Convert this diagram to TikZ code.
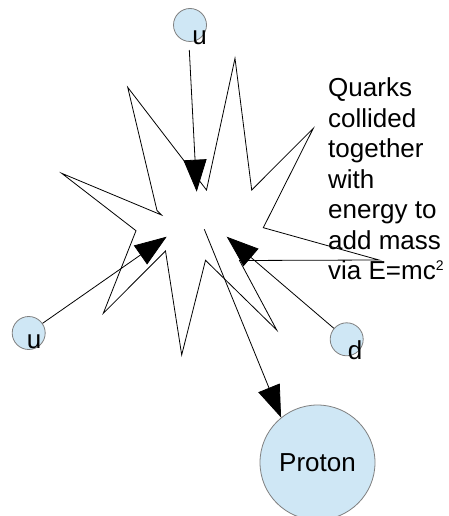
\documentclass[tikz,border=0pt]{standalone}
\usepackage{fontspec}
\setmainfont{Liberation Sans}
\usetikzlibrary{arrows.meta}
\definecolor{quarkblue}{HTML}{CFE7F5}
\definecolor{rimgray}{HTML}{808080}

\begin{document}
\begin{tikzpicture}[x=1pt, y=-1pt, font=\fontsize{26}{30.5}\selectfont]
    \tikzset{ quark/.style={circle,draw=rimgray,fill=quarkblue,line width=0.8pt,minimum size=33pt,inner sep=0pt},
            tag/.style={anchor=base,inner sep=0pt},
            arrow/.style={-{Triangle[length=32pt,width=23pt]}, line width=0.8pt}}
    \useasboundingbox[fill=white] (0,0) rectangle (449,516);

    % Explosion
    \draw[line width=0.8pt] (235,58.3) -- (251.7,190) -- (313.3,128.3) -- (263.3,227.7)
        -- (379,260) -- (239.5,260.5) -- (276.7,330) -- (205.5,260.3) -- (181.7,355)
        -- (165.5,251) -- (103.3,313.3) -- (136,230.7) -- (61.7,173.3) -- (161.5,215)
        -- (157,210.5) -- (127.7,87.3) -- (206.5,190) -- cycle;

    \coordinate (hitT) at (196.7,191.7);
    \coordinate (hitL) at (166.7,236.7);
    \coordinate (hitR) at (226.7,236.7);
    \coordinate (core) at (204.3,229.3);
    \coordinate (uTfoot) at (189.3,50);

    % Quarks
    \node[quark] (uT) at (190,25) {};
    \node[tag] (uTlab) at ([xshift=9.7pt,yshift=-20pt]uT.center) {u};
    \node[quark] (uL) at (28.7,333) {};
    \node[tag] (uLlab) at ([xshift=5.3pt,yshift=-15.3pt]uL.center) {u};
    \node[quark] (d) at (346.7,339.3) {};
    \node[tag] (dlab) at ([xshift=8.3pt,yshift=-19.7pt]d.center) {d};

    \node[quark, minimum size=115pt] (proton) at (317.5,462.5) {Proton};

    \node[anchor=north west, align=left, inner sep=0pt] (note) at (328,77.5)
        {Quarks\\collided\\together\\with\\energy to\\add mass\\via E=mc\raisebox{9pt}{\fontsize{14}{14}\selectfont 2}};

    % Arrows
    \draw[arrow] (uTfoot) -- (hitT);
    \draw[arrow] (uL) -- (hitL);
    \draw[arrow] (d) -- (hitR);
    \draw[arrow] (core) -- (proton.129);
\end{tikzpicture}
\end{document}
